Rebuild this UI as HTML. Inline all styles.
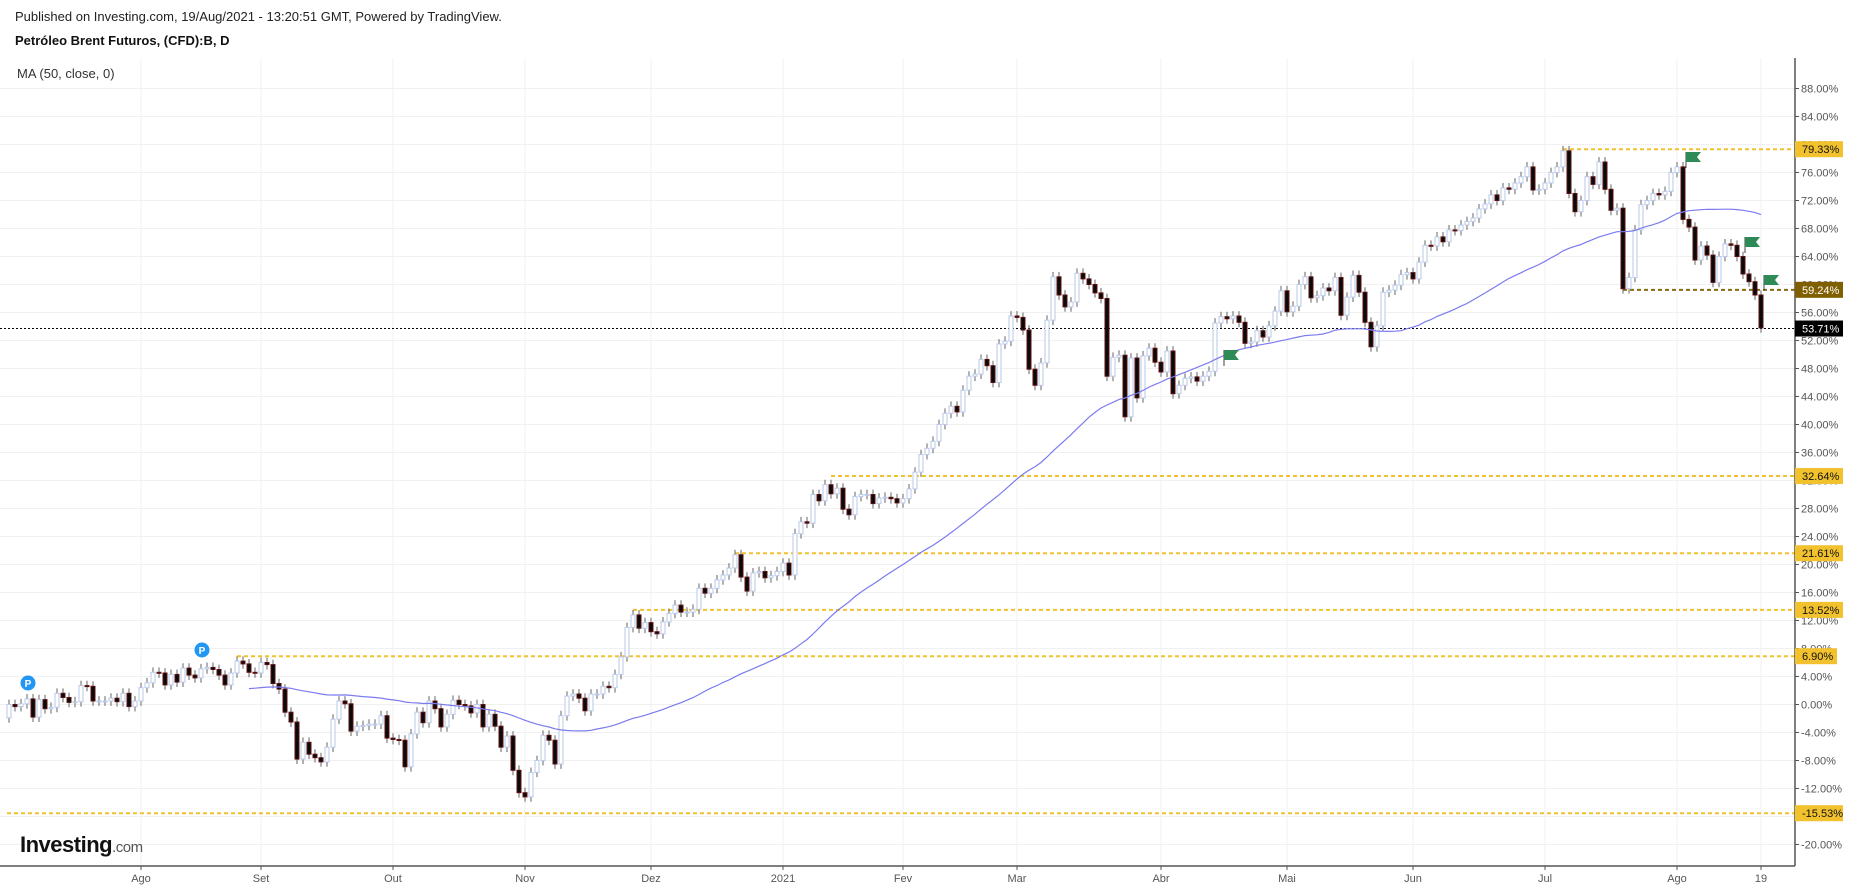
<!DOCTYPE html>
<html><head><meta charset="utf-8"><style>
html,body{margin:0;padding:0;background:#fff;width:1853px;height:890px;overflow:hidden}
svg{display:block;font-family:"Liberation Sans",Arial,sans-serif}
</style></head><body>
<svg id="chart" width="1853" height="890" viewBox="0 0 1853 890" xmlns="http://www.w3.org/2000/svg">
<text x="15" y="21" font-size="13" fill="#222">Published on Investing.com, 19/Aug/2021 - 13:20:51 GMT, Powered by TradingView.</text>
<text x="15" y="45" font-size="13" font-weight="bold" fill="#111">Petróleo Brent Futuros, (CFD):B, D</text>
<g id="grid"></g>
<g id="levels"></g>
<g id="candles"></g>
<g id="ma"></g>
<g id="axes"></g>
<g id="marks"></g>
<text x="17" y="78" font-size="13" fill="#333">MA (50, close, 0)</text>
<g>
<text x="20" y="852" font-size="22" font-weight="bold" fill="#111" letter-spacing="-0.5">Investing<tspan font-size="15" font-weight="normal" fill="#555">.com</tspan></text>
</g>
</svg>
<script>
const closes=[0.0,-0.3,0.1,0.8,-1.8,0.7,-0.6,-0.4,1.6,1.0,
0.3,0.4,2.7,2.6,0.5,0.5,0.5,0.9,0.4,1.6,
-0.3,0.5,2.4,3.1,4.6,4.5,2.8,4.3,3.2,5.2,
4.2,3.8,5.1,5.3,5.0,4.2,2.8,4.5,6.2,5.8,
4.6,4.5,6.0,5.7,3.0,2.2,-1.1,-2.5,-7.8,-5.4,
-7.1,-7.6,-8.2,-6.1,-2.1,0.5,0.1,-3.8,-3.1,-3.0,
-2.8,-2.8,-1.6,-4.8,-5.0,-5.1,-8.9,-4.2,-1.1,-2.6,
0.5,-0.6,-3.2,-1.4,0.6,0.0,-0.2,-1.2,0.0,-3.2,
-1.4,-3.1,-6.1,-4.5,-9.4,-12.6,-13.2,-9.7,-8.0,-4.4,
-5.1,-8.5,
-1.6,1.2,1.5,0.9,-0.9,1.5,1.5,2.6,2.4,4.3,
6.8,11.0,12.8,10.9,11.7,10.4,10.1,11.8,13.0,14.2,
13.2,13.2,13.6,16.6,15.9,16.6,17.8,18.5,19.5,21.4,
18.2,16.2,18.8,19.0,18.1,18.4,19.0,20.2,18.5,24.4,
26.1,25.9,30.0,29.1,31.4,30.1,30.9,27.9,27.1,29.7,
30.0,30.0,28.7,29.5,29.6,29.4,28.8,29.4,30.8,33.2,
35.7,36.6,37.6,40.0,
41.6,42.6,41.8,44.9,46.9,47.2,49.3,48.4,46.0,51.5,
51.9,55.5,55.3,53.5,47.9,45.6,48.8,54.9,61.1,58.5,
56.8,57.5,61.6,60.8,60.0,58.8,58.0,46.9,49.6,49.9,
41.1,49.5,43.8,49.8,50.9,48.9,47.5,50.5,44.4,45.6,
46.6,46.8,46.2,46.9,47.6,54.5,55.4,55.1,55.5,54.6,
51.6,51.8,53.4,52.5,54.1,56.2,59.1,56.1,56.9,60.0,
61.1,58.1,58.4,59.5,59.1,61.0,55.6,58.2,61.3,58.9,
54.6,51.1,54.1,58.9,59.2,59.9,61.4,61.7,60.8,63.2,
65.6,65.5,66.8,66.1,67.8,67.7,68.5,69.0,69.5,
70.8,71.5,72.8,72.0,
73.8,73.6,74.5,75.4,76.8,73.5,73.6,74.5,76.0,76.8,
79.1,73.0,70.4,72.0,75.4,74.3,77.5,73.6,70.6,70.9,
59.4,61.0,67.8,71.4,72.0,73.0,72.8,73.3,76.0,76.8,
69.3,68.2,63.5,65.5,64.2,60.3,64.0,65.8,65.6,64.0,
61.5,60.4,58.5,53.8];
const firstOpen=-1.9;
const yTicks=[88,84,80,76,72,68,64,60,56,52,48,44,40,36,32,28,24,20,16,12,8,4,0,-4,-8,-12,-16,-20];
const monthLabels=["Ago","Set","Out","Nov","Dez","2021","Fev","Mar","Abr","Mai","Jun","Jul","Ago","19"];
const monthIdx=[22,42,64,86,107,129,149,168,192,213,234,256,278,292];
const levelValues=[79.33,32.64,21.61,13.52,6.90,-15.53];
const levelStartIdx=[259,137,121,104,38,0];
const keyLevel=59.24, keyLevelStart=269;
const lastPrice=53.71;

const NS="http://www.w3.org/2000/svg";
const AX=1795, TOP=58, BOT=866;
const N=closes.length;
function xAt(i){return 1761-(N-1-i)*6;}
function yAt(v){return 704.5-7*v;}
function mk(tag,attrs,parent){const e=document.createElementNS(NS,tag);for(const k in attrs)e.setAttribute(k,attrs[k]);parent.appendChild(e);return e;}
const grid=document.getElementById('grid'),levels=document.getElementById('levels'),cg=document.getElementById('candles'),mg=document.getElementById('ma'),axes=document.getElementById('axes'),marks=document.getElementById('marks');

yTicks.forEach(v=>{
  const l=mk('line',{x1:0,x2:AX,y1:yAt(v),y2:yAt(v),stroke:'#f0f0f0','stroke-width':1},grid);
  
  
});
monthIdx.forEach(i=>{
  const l=mk('line',{x1:xAt(i),x2:xAt(i),y1:TOP,y2:BOT,stroke:'#f0f0f0','stroke-width':1},grid);
  
  
});

levelValues.forEach((v,k)=>{
  const l=mk('line',{x1:k===5?7:xAt(levelStartIdx[k]),x2:AX,y1:yAt(v),y2:yAt(v),stroke:'#f2c12e','stroke-width':2,'stroke-dasharray':'4,3'},levels);
  
  
});
const kl=mk('line',{x1:xAt(keyLevelStart),x2:AX,y1:yAt(keyLevel),y2:yAt(keyLevel),stroke:'#8a6a10','stroke-width':2,'stroke-dasharray':'4,3'},levels);


const lp=mk('line',{x1:0,x2:AX,y1:yAt(lastPrice),y2:yAt(lastPrice),stroke:'#000','stroke-width':1,'stroke-dasharray':'2,2'},levels);



let prev=firstOpen;
for(let i=0;i<N;i++){
  const o=prev,c=closes[i];prev=c;
  const x=xAt(i),hi=Math.max(o,c)+0.7,lo=Math.min(o,c)-0.7;
  const w=mk('line',{x1:x,x2:x,y1:yAt(hi),y2:yAt(lo),stroke:'#666','stroke-width':1},cg);
  
  
  const up=c>=o;
  const top=yAt(Math.max(o,c)),h=Math.max(1,yAt(Math.min(o,c))-top);
  const b=mk('rect',{x:x-2,y:top,width:4,height:h,fill:up?'#fff':'#0a0a0a',stroke:up?'#b9c9ea':'#5a1010','stroke-width':1},cg);
  
  
}

let pts=[];
for(let i=40;i<N;i++){
  const s=Math.max(0,i-49);let sum=0;for(let j=s;j<=i;j++)sum+=closes[j];
  pts.push(xAt(i)+','+yAt(sum/(i-s+1)).toFixed(1));
}
const ma=mk('polyline',{points:pts.join(' '),fill:'none',stroke:'#7b7bf0','stroke-width':1.2},mg);



mk('line',{x1:AX,x2:AX,y1:TOP,y2:BOT,stroke:'#555','stroke-width':1.5},axes);
mk('line',{x1:0,x2:AX,y1:BOT,y2:BOT,stroke:'#555','stroke-width':1.5},axes);
yTicks.forEach(v=>{
  mk('line',{x1:AX,x2:AX+4,y1:yAt(v),y2:yAt(v),stroke:'#555'},axes);
  const t=mk('text',{x:AX+6,y:yAt(v)+4,'font-size':11,fill:'#555'},axes);
  t.textContent=v.toFixed(2)+'%';
  
  
});
monthLabels.forEach((m,k)=>{
  const x=xAt(monthIdx[k]);
  mk('line',{x1:x,x2:x,y1:BOT,y2:BOT+4,stroke:'#555'},axes);
  const t=mk('text',{x:x,y:882,'font-size':11,fill:'#555','text-anchor':'middle'},axes);
  t.textContent=m;
  
  
});
function badge(v,bg,fg,name){
  const y=yAt(v);
  const r=mk('rect',{x:AX,y:y-8,width:v<0||v>=10?48:42,height:16,fill:bg},axes);
  
  
  const t=mk('text',{x:AX+7,y:y+4,'font-size':11,fill:fg},axes);
  t.textContent=v.toFixed(2)+'%';
  
  
}
levelValues.forEach(v=>badge(v,'#f2c12e','#111','level-badge'));
badge(keyLevel,'#7f5f00','#fff','key-level-badge');
badge(lastPrice,'#000','#fff','last-price-badge');

function flag(x,y){
  const g=mk('g',{},marks);
  
  
  mk('line',{x1:x,x2:x,y1:y,y2:y+16,stroke:'#444'},g);
  mk('polygon',{points:`${x},${y} ${x+15},${y} ${x+11},${y+5} ${x+15},${y+10} ${x},${y+10}`,fill:'#2e8b57'},g);
}
flag(1686,152);flag(1745,237);flag(1764,275);flag(1224,350);
function pin(x,y){
  const g=mk('g',{},marks);
  
  
  mk('circle',{cx:x,cy:y,r:7.5,fill:'#2196f3'},g);
  const t=mk('text',{x:x,y:y+4,'font-size':10,'font-weight':'bold',fill:'#fff','text-anchor':'middle'},g);
  t.textContent='P';
}
pin(28,683);pin(202,650);
</script>
</body></html>
